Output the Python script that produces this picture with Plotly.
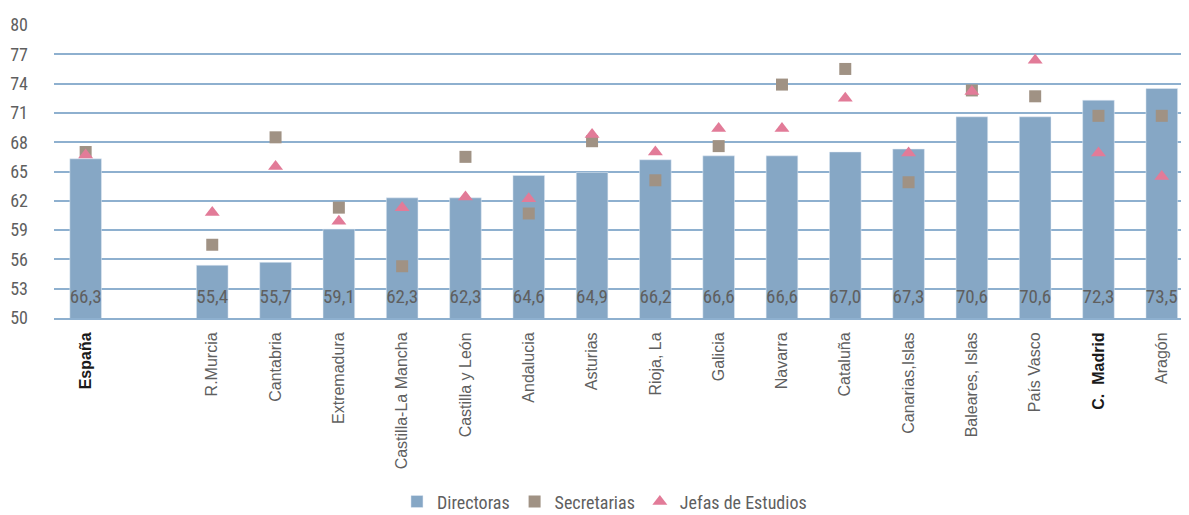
import plotly.graph_objects as go

categories = ["España", " ", "R.Murcia", "Cantabria", "Extremadura", "Castilla-La Mancha",
              "Castilla y León", "Andalucia", "Asturias", "Rioja, La", "Galicia", "Navarra",
              "Cataluña", "Canarias,Islas", "Baleares, Islas", "País Vasco", "C.  Madrid", "Aragón"]
directoras = [66.3, None, 55.4, 55.7, 59.1, 62.3, 62.3, 64.6, 64.9, 66.2, 66.6, 66.6, 67.0, 67.3, 70.6, 70.6, 72.3, 73.5]
secretarias = [67.0, None, 57.5, 68.5, 61.3, 55.3, 66.5, 60.7, 68.1, 64.1, 67.6, 73.9, 75.5, 63.9, 73.3, 72.7, 70.7, 70.7]
jefas = [66.7, None, 60.8, 65.5, 59.9, 61.3, 62.4, 62.2, 68.8, 67.0, 69.4, 69.4, 72.5, 66.9, 73.2, 76.4, 66.9, 64.5]
bold_cats = ["España", "C.  Madrid"]
y_ticks = [50, 53, 56, 59, 62, 65, 68, 71, 74, 77, 80]

GRAY = "#5f5f5f"
NARROW = "Roboto Condensed, Liberation Sans Narrow, Arial Narrow, sans-serif"

ticktext = [f"<b><span style='color:#1a1a1a'>{c}</span></b>" if c in bold_cats else c for c in categories]
labels = ["" if v is None else f"{v:.1f}".replace(".", ",") for v in directoras]

fig = go.Figure()
fig.add_trace(go.Bar(x=categories, y=directoras, name="Directoras", marker_color="#86a7c5",
                     width=0.5))
fig.add_trace(go.Scatter(x=categories, y=secretarias, name="Secretarias", mode="markers",
                         marker=dict(symbol="square", size=12, color="#a09284")))
fig.add_trace(go.Scatter(x=categories, y=jefas, name="Jefas de Estudios", mode="markers",
                         marker=dict(symbol="triangle-up", size=13, color="#e27b98")))
fig.add_trace(go.Scatter(x=categories, y=[52.05] * len(categories), mode="text", text=labels,
                         textfont=dict(family=NARROW, size=19, color=GRAY), showlegend=False,
                         hoverinfo="skip"))

fig.update_layout(
    width=1181, height=507,
    margin=dict(l=46, r=0, t=17, b=197, autoexpand=False),
    plot_bgcolor="white", paper_bgcolor="white",
    barmode="overlay",
    legend=dict(orientation="h", x=0.485, xanchor="center",
                yref="container", y=0.026, yanchor="middle",
                font=dict(family=NARROW, size=18, color=GRAY), itemwidth=30,
                traceorder="normal"),
    font=dict(family="Liberation Sans, Arial, sans-serif", color=GRAY),
)
fig.update_xaxes(type="category", categoryorder="array", categoryarray=categories,
                 tickmode="array", tickvals=categories, ticktext=ticktext,
                 tickangle=-90, tickfont=dict(size=16, color=GRAY),
                 range=[-0.5, 17.43], showgrid=False, automargin=False,
                 ticklabelstandoff=6,
                 showline=True, linecolor="#8eb0cf", linewidth=2)
fig.update_yaxes(range=[50, 80], tickmode="array", tickvals=y_ticks,
                 showgrid=True, gridcolor="#8eb0cf", gridwidth=2, zeroline=False,
                 tickfont=dict(family=NARROW, size=18, color=GRAY),
                 ticklabelstandoff=25, automargin=False)

fig.write_html("out.html")
